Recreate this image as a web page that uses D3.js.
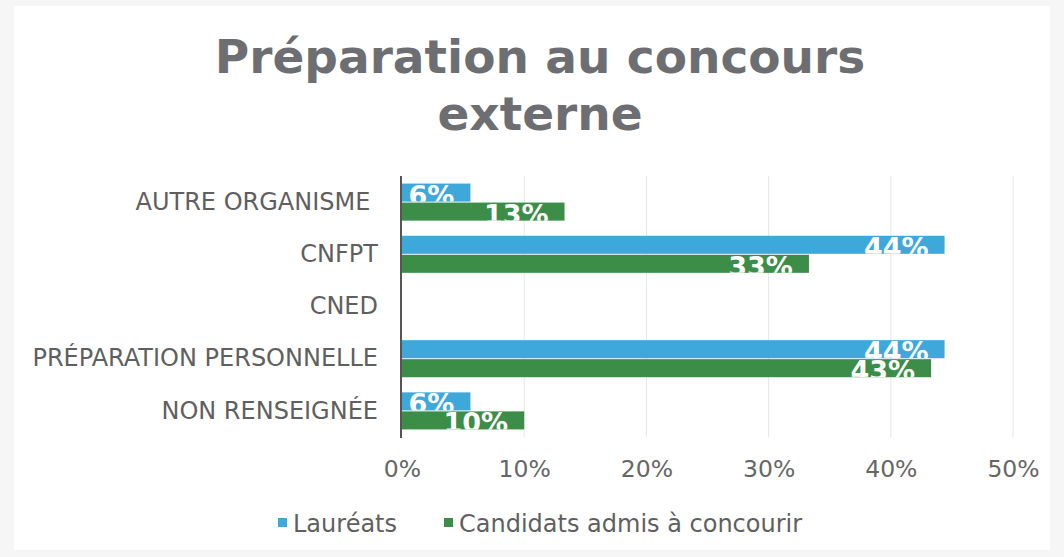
<!DOCTYPE html>
<html><head><meta charset="utf-8">
<script src="https://cdn.jsdelivr.net/npm/d3@7"></script>
<style>body{margin:0;background:#fff}svg{display:block}</style>
</head><body>
<script>
const categories = ["AUTRE ORGANISME ", "CNFPT", "CNED", "PRÉPARATION PERSONNELLE", "NON RENSEIGNÉE"];
const seriesNames = ["Lauréats", "Candidats admis à concourir"];
const laureats = [5.6, 44.4, 0, 44.4, 5.6];
const candidats = [13.3, 33.3, 0, 43.3, 10.0];
const xTicks = [0, 10, 20, 30, 40, 50];
const colors = ["#3fa8da", "#3c8d47"];

const W = 1064, H = 557;
const svg = d3.select("body").append("svg").attr("width", W).attr("height", H);
svg.append("rect").attr("width", W).attr("height", H).attr("fill", "#f6f6f6");
svg.append("rect").attr("x", 14).attr("y", 6).attr("width", 1036).attr("height", 544).attr("fill", "#ffffff");

const fontN = "'DejaVu Sans',sans-serif";
const x = d3.scaleLinear().domain([0, 50]).range([402, 1013]);
const y = d3.scaleBand().domain(categories).range([176, 437]).paddingInner(0.29).paddingOuter(0.145);
const yLab = d3.scaleBand().domain(categories).range([176, 437]);
const y1 = d3.scaleBand().domain(seriesNames).range([0, y.bandwidth()]).paddingInner(0.05);

// title
const title = svg.append("g").attr("font-family", fontN).attr("font-weight", "bold")
  .attr("font-size", 47).attr("fill", "#6d6e71").attr("text-anchor", "middle");
title.append("text").attr("x", 540).attr("y", 73).text("Préparation au concours");
title.append("text").attr("x", 540).attr("y", 130).text("externe");

// gridlines
svg.append("g").selectAll("line").data(xTicks.slice(1)).join("line")
  .attr("x1", d => x(d)).attr("x2", d => x(d)).attr("y1", 176).attr("y2", 437)
  .attr("stroke", "#e6e6e6").attr("stroke-width", 1);

// x axis labels
const xAxis = d3.axisBottom(x).tickValues(xTicks).tickFormat(d => d + "%").tickSize(0).tickPadding(0);
const gx = svg.append("g").attr("transform", "translate(0,460)").call(xAxis);
gx.select(".domain").remove();
gx.selectAll("text").attr("font-family", fontN).attr("font-size", 23.5).attr("fill", "#666");

// y axis labels
const yAxis = d3.axisLeft(yLab).tickSize(0).tickPadding(0);
const gy = svg.append("g").attr("transform", "translate(378,0)").call(yAxis);
gy.select(".domain").remove();
gy.selectAll("text").attr("font-family", fontN).attr("font-size", 24).attr("fill", "#5f5f5f")
  .style("white-space", "pre");

const defs = svg.append("defs");
const rows = categories.map((c, i) => ({c, vals: [laureats[i], candidats[i]]}));
const g = svg.append("g");
let k = 0;
rows.forEach(r => {
  r.vals.forEach((v, j) => {
    const yy = y(r.c) + y1(seriesNames[j]);
    if (v > 0) {
      const w = x(v) - x(0), h = y1.bandwidth();
      g.append("rect").attr("x", x(0)).attr("y", yy).attr("width", w).attr("height", h)
        .attr("fill", colors[j]);
      const id = "clip" + (k++);
      defs.append("clipPath").attr("id", id).append("rect")
        .attr("x", x(0)).attr("y", yy).attr("width", w).attr("height", h);
      g.append("text").attr("clip-path", `url(#${id})`)
        .attr("x", x(v) - 16).attr("y", yy + h + 3)
        .attr("text-anchor", "end").attr("font-family", fontN).attr("font-weight", "bold")
        .attr("font-size", 27).attr("fill", "#fff").text(Math.round(v) + "%");
    }
  });
});

// y axis line
svg.append("line").attr("x1", 401).attr("x2", 401).attr("y1", 176).attr("y2", 438)
  .attr("stroke", "#555").attr("stroke-width", 2);

// legend
const legend = [{x: 278, t: seriesNames[0], c: colors[0]}, {x: 444, t: seriesNames[1], c: colors[1]}];
legend.forEach(l => {
  svg.append("rect").attr("x", l.x).attr("y", 518).attr("width", 9).attr("height", 9).attr("fill", l.c);
  svg.append("text").attr("x", l.x + 15).attr("y", 532).attr("font-family", fontN)
    .attr("font-size", 24).attr("fill", "#5f5f5f").text(l.t);
});
</script>
</body></html>
